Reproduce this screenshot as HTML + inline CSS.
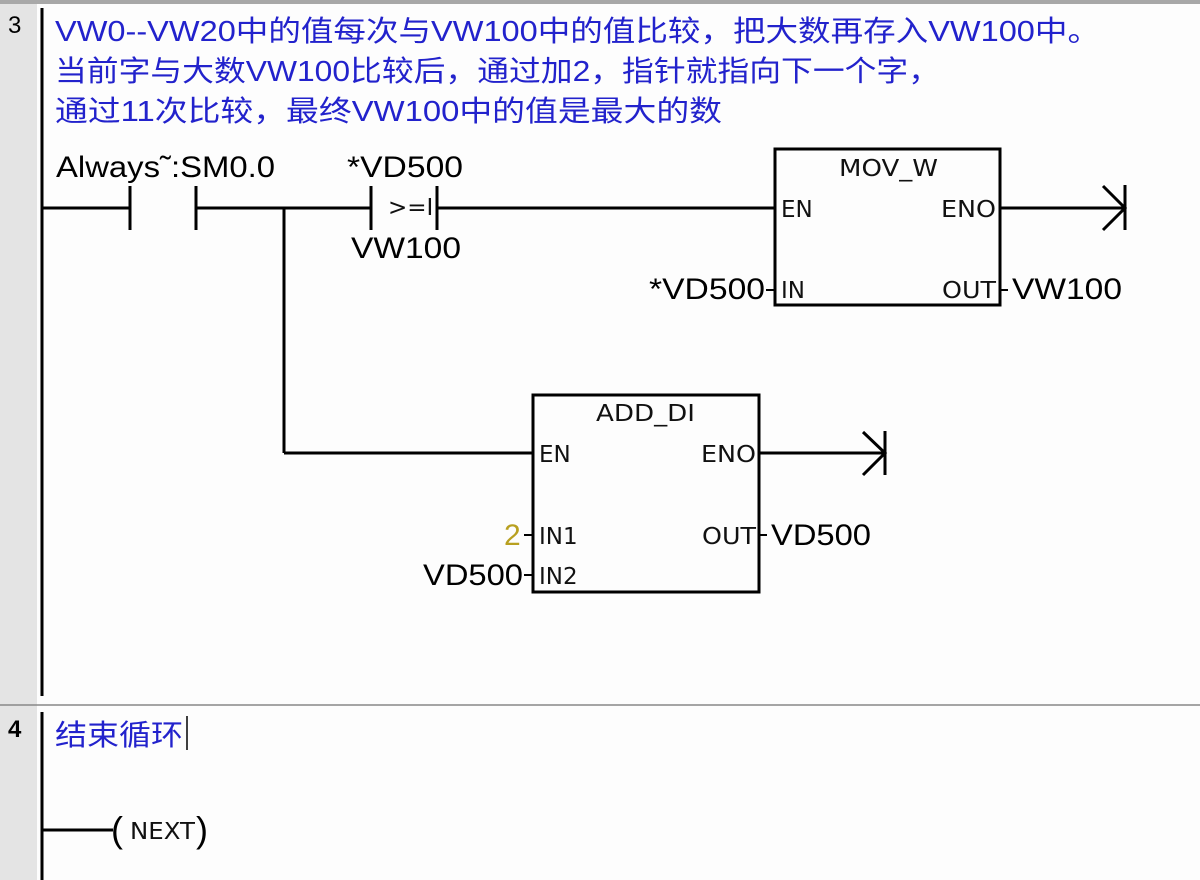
<!DOCTYPE html>
<html><head><meta charset="utf-8"><style>
html,body{margin:0;padding:0;background:#fff;}
svg{display:block;}
.c{font-family:"Liberation Sans","Noto Sans CJK SC",sans-serif;fill:#2222cc;font-size:29px;}
.l{font-family:"Liberation Sans",sans-serif;fill:#000;font-size:30px;}
.p{font-family:"DejaVu Sans","Liberation Sans",sans-serif;fill:#111;font-size:23px;}
</style></head><body>
<svg width="1200" height="880" viewBox="0 0 1200 880" xmlns="http://www.w3.org/2000/svg">
<rect x="0" y="0" width="1200" height="880" fill="#fdfdfd"/>
<rect x="0" y="0" width="1200" height="4" fill="#a8a8a8"/>
<rect x="0" y="4" width="37" height="876" fill="#e4e4e4"/>
<line x1="0" y1="705" x2="1200" y2="705" stroke="#888" stroke-width="1.5"/>
<text x="8" y="33" font-family="Liberation Sans" font-size="24" fill="#000">3</text>
<text x="8" y="737" font-family="Liberation Sans" font-size="24" font-weight="bold" fill="#000">4</text>
<g stroke="#000" stroke-width="3" fill="none">
<line x1="42" y1="8" x2="42" y2="696"/>
<line x1="42" y1="712" x2="42" y2="880"/>
<line x1="42" y1="208" x2="130" y2="208"/>
<line x1="130" y1="186" x2="130" y2="230"/>
<line x1="196" y1="186" x2="196" y2="230"/>
<line x1="196" y1="208" x2="371" y2="208"/>
<line x1="284" y1="208" x2="284" y2="453"/>
<line x1="284" y1="453" x2="533" y2="453"/>
<line x1="371" y1="186" x2="371" y2="230"/>
<line x1="437" y1="186" x2="437" y2="230"/>
<line x1="437" y1="208" x2="775" y2="208"/>
<rect x="775" y="149" width="225" height="156"/>
<line x1="1000" y1="208" x2="1125" y2="208"/>
<line x1="1125" y1="185" x2="1125" y2="230"/>
<polyline points="1103,186 1125,208 1103,230"/>
<rect x="533" y="395" width="226" height="197"/>
<line x1="759" y1="453" x2="885" y2="453"/>
<line x1="885" y1="431" x2="885" y2="475"/>
<polyline points="863,432 885,453 863,475"/>
<line x1="42" y1="830" x2="113" y2="830"/>
</g>
<g stroke="#000" stroke-width="2">
<line x1="766" y1="290" x2="775" y2="290"/>
<line x1="1000" y1="290" x2="1008" y2="290"/>
<line x1="524" y1="535" x2="533" y2="535"/>
<line x1="524" y1="575" x2="533" y2="575"/>
<line x1="759" y1="535" x2="767" y2="535"/>
</g>
<text class="c" x="55" y="41" textLength="1045" lengthAdjust="spacingAndGlyphs">VW0--VW20中的值每次与VW100中的值比较，把大数再存入VW100中。</text>
<text class="c" x="55" y="81" textLength="885" lengthAdjust="spacingAndGlyphs">当前字与大数VW100比较后，通过加2，指针就指向下一个字，</text>
<text class="c" x="55" y="121" textLength="667" lengthAdjust="spacingAndGlyphs">通过11次比较，最终VW100中的值是最大的数</text>
<text class="c" x="55" y="745" textLength="128" lengthAdjust="spacingAndGlyphs">结束循环</text>
<line x1="187" y1="716" x2="187" y2="750" stroke="#000" stroke-width="1.5"/>
<text class="l" x="56" y="177" textLength="219" lengthAdjust="spacingAndGlyphs">Always˜:SM0.0</text>
<text class="l" x="347" y="177" textLength="116" lengthAdjust="spacingAndGlyphs">*VD500</text>
<text class="l" x="351" y="258" textLength="110" lengthAdjust="spacingAndGlyphs">VW100</text>
<text class="p" x="388" y="215" font-size="17">&gt;=I</text>
<text class="p" x="839" y="176" textLength="99" lengthAdjust="spacingAndGlyphs">MOV_W</text>
<text class="p" x="781" y="217">EN</text>
<text class="p" x="941" y="217" textLength="55" lengthAdjust="spacingAndGlyphs">ENO</text>
<text class="p" x="781" y="298">IN</text>
<text class="p" x="942" y="298" textLength="54" lengthAdjust="spacingAndGlyphs">OUT</text>
<text class="l" x="649" y="299" textLength="116" lengthAdjust="spacingAndGlyphs">*VD500</text>
<text class="l" x="1012" y="299" textLength="110" lengthAdjust="spacingAndGlyphs">VW100</text>
<text class="p" x="596" y="421" textLength="99" lengthAdjust="spacingAndGlyphs">ADD_DI</text>
<text class="p" x="539" y="462">EN</text>
<text class="p" x="701" y="462" textLength="55" lengthAdjust="spacingAndGlyphs">ENO</text>
<text class="p" x="539" y="544">IN1</text>
<text class="p" x="539" y="584">IN2</text>
<text class="p" x="702" y="544" textLength="54" lengthAdjust="spacingAndGlyphs">OUT</text>
<text class="l" x="504" y="545" style="fill:#b8a020">2</text>
<text class="l" x="423" y="585" textLength="100" lengthAdjust="spacingAndGlyphs">VD500</text>
<text class="l" x="771" y="545" textLength="100" lengthAdjust="spacingAndGlyphs">VD500</text>
<text x="111" y="842" font-family="Liberation Sans" font-size="36" fill="#000">(</text>
<text class="p" x="130" y="839" textLength="65" lengthAdjust="spacingAndGlyphs">NEXT</text>
<text x="196" y="842" font-family="Liberation Sans" font-size="36" fill="#000">)</text>
</svg>
</body></html>
